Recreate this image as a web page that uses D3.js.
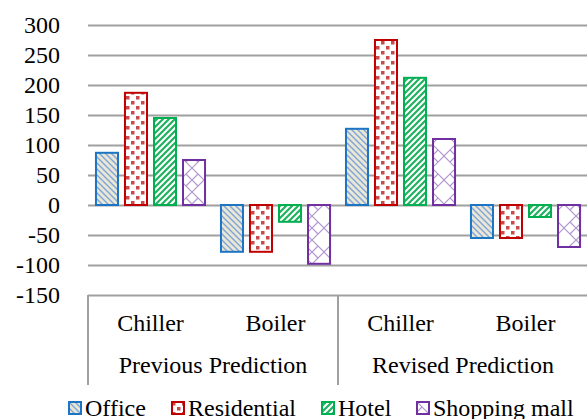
<!DOCTYPE html>
<html><head><meta charset="utf-8">
<script src="https://cdn.jsdelivr.net/npm/d3@7"></script>
<style>
body{margin:0;background:#fff}
#wrap{position:relative;width:587px;height:419px;overflow:hidden}
svg{display:block;position:absolute;left:0;top:0}
.lbl{position:absolute;font-size:24px;line-height:24px;white-space:nowrap;color:#000}
</style>
</head><body>
<div id="wrap"></div>
<script>
const groups = ["Previous Prediction", "Revised Prediction"];
const equipment = ["Chiller", "Boiler"];
const series = ["Office", "Residential", "Hotel", "Shopping mall"];
const office      = [87, -78, 127, -55];
const residential = [187, -78, 275, -55];
const hotel       = [145, -28, 212, -20];
const shopping    = [75, -98, 110, -70];
const yTicks = [300, 250, 200, 150, 100, 50, 0, -50, -100, -150];

const seriesValues = [office, residential, hotel, shopping];
const colors = ["#1b75c4", "#c00000", "#00b050", "#7030a0"];

const W = 587, H = 419;
const FF = "'Liberation Serif', 'Times New Roman', serif";
const wrap = d3.select("#wrap");
const svg = wrap.append("svg").attr("width", W).attr("height", H);
const defs = svg.append("defs");
const BASE = 20; // baseline offset within a 24px line box

function label(x, baseline, text, anchor) {
  const tx = anchor === "middle" ? "-50%" : anchor === "end" ? "-100%" : "0";
  return wrap.append("div").attr("class", "lbl")
    .style("font-family", FF, "important")
    .style("left", x + "px").style("top", (baseline - BASE) + "px")
    .style("transform", `translateX(${tx})`).text(text);
}

// patterns
let p = defs.append("pattern").attr("id","pat0").attr("patternUnits","userSpaceOnUse").attr("width",6).attr("height",6);
p.append("rect").attr("width",6).attr("height",6).attr("fill","#ebe7d6");
p.append("path").attr("d","M-1,-1 L7,7 M-1,5 L1,7 M5,-1 L7,1").attr("stroke","#7fa6d6").attr("stroke-width",1.4);

p = defs.append("pattern").attr("id","pat1").attr("patternUnits","userSpaceOnUse").attr("width",10).attr("height",10);
p.append("rect").attr("width",10).attr("height",10).attr("fill","#fff");
p.append("rect").attr("x",1).attr("y",1).attr("width",3.5).attr("height",3.5).attr("fill","#c84a4a");
p.append("rect").attr("x",6).attr("y",6).attr("width",3.5).attr("height",3.5).attr("fill","#c84a4a");

p = defs.append("pattern").attr("id","pat2").attr("patternUnits","userSpaceOnUse").attr("width",6).attr("height",6);
p.append("rect").attr("width",6).attr("height",6).attr("fill","#fff");
p.append("path").attr("d","M-1,7 L7,-1 M-1,1 L1,-1 M5,7 L7,5").attr("stroke","#1fb25f").attr("stroke-width",2.2);

p = defs.append("pattern").attr("id","pat3").attr("patternUnits","userSpaceOnUse").attr("width",24).attr("height",24);
p.append("rect").attr("width",24).attr("height",24).attr("fill","#fff");
p.append("path").attr("d","M0,0 L12,12 L24,0 M0,24 L12,12 L24,24").attr("stroke","#b197cf").attr("stroke-width",1.2).attr("fill","none");
p.append("path").attr("d","M0,12 L6,18 M24,12 L18,18 M6,6 L0,12 M18,6 L24,12").attr("stroke","#b197cf").attr("stroke-width",1.2).attr("fill","none");

const plotLeft = 88, plotRight = 588;
const y = d3.scaleLinear().domain([-150, 300]).range([295, 25]);
const xGroup = d3.scaleBand().domain(groups).range([plotLeft, plotRight]);
const xEq = d3.scaleBand().domain(equipment).range([0, xGroup.bandwidth()]);
const xSer = d3.scaleBand().domain(series).range([0, xEq.bandwidth()]).paddingInner(0.172).paddingOuter(0.24);

// gridlines via d3 axis
const grid = svg.append("g").attr("transform", `translate(${plotLeft},0)`)
  .call(d3.axisRight(y).tickValues(yTicks).tickSize(W - plotLeft).tickFormat(""));
grid.select(".domain").remove();
grid.selectAll("line").attr("stroke", "#a0a0a0").attr("stroke-width", 2);

// y tick labels
yTicks.forEach(t => label(60, y(t) + 8, String(t), "end"));

// bars
const cells = [];
groups.forEach((g, gi) => equipment.forEach((e, ei) => series.forEach((s, si) => {
  cells.push({g, e, s, si, v: seriesValues[si][gi * 2 + ei]});
})));
svg.append("g").selectAll("rect").data(cells).join("rect")
  .attr("x", d => xGroup(d.g) + xEq(d.e) + xSer(d.s) + 1)
  .attr("width", xSer.bandwidth() - 2)
  .attr("y", d => y(Math.max(0, d.v)))
  .attr("height", d => Math.abs(y(d.v) - y(0)))
  .attr("fill", d => `url(#pat${d.si})`)
  .attr("stroke", d => colors[d.si]).attr("stroke-width", 2);

// category axis lines
svg.append("g").selectAll("line").data([plotLeft, xGroup(groups[1])]).join("line")
  .attr("x1", d => d).attr("x2", d => d).attr("y1", 295).attr("y2", 385)
  .attr("stroke", "#a0a0a0").attr("stroke-width", 2);

// category labels
groups.forEach(g => equipment.forEach(e => label(xGroup(g) + xEq(e) + xEq.bandwidth() / 2, 331, e, "middle")));
groups.forEach(g => label(xGroup(g) + xGroup.bandwidth() / 2, 373, g, "middle"));

// legend
const legX = [68, 171, 321, 416];
const leg = svg.append("g").selectAll("g").data(series).join("g")
  .attr("transform", (d, i) => `translate(${legX[i]},401)`);
leg.append("rect").attr("x", 1).attr("y", 1).attr("width", 12).attr("height", 12)
  .attr("fill", (d, i) => `url(#pat${i})`).attr("stroke", (d, i) => colors[i]).attr("stroke-width", 2);
series.forEach((s, i) => label(legX[i] + 17, 416, s, "start"));
</script>
</body></html>
